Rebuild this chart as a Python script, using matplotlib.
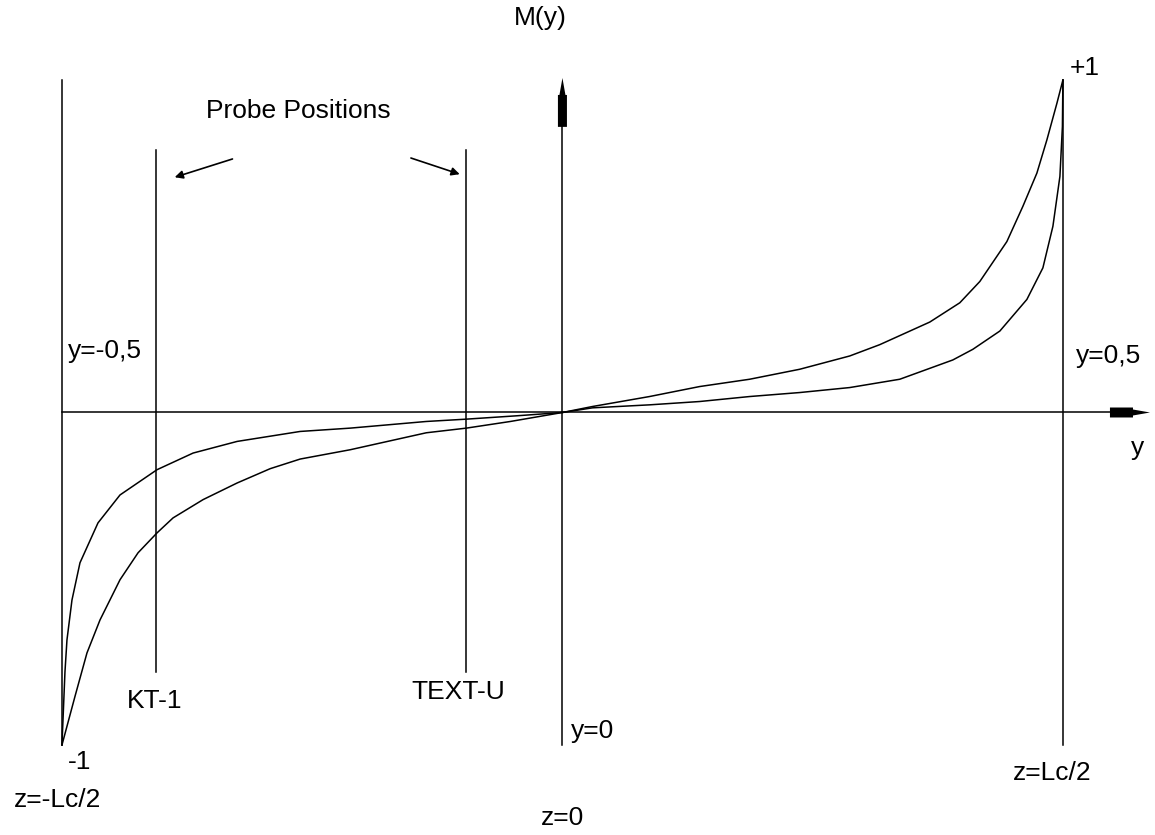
import matplotlib
matplotlib.use("Agg")
import matplotlib.pyplot as plt

# curve: (y, M(y)) for the two profiles
steep_y = [-0.5, -0.497, -0.495, -0.490, -0.482, -0.464, -0.442, -0.405, -0.369,
           -0.325, -0.262, -0.212, -0.136, -0.096, -0.046, 0.0, 0.030, 0.087,
           0.137, 0.187, 0.237, 0.287, 0.337, 0.390, 0.410, 0.437, 0.464, 0.480,
           0.490, 0.497, 0.4995, 0.5]
steep_m = [-1.0, -0.78, -0.684, -0.564, -0.452, -0.332, -0.248, -0.172, -0.122,
           -0.087, -0.057, -0.047, -0.027, -0.020, -0.010, 0.0, 0.014, 0.023,
           0.033, 0.048, 0.060, 0.075, 0.100, 0.158, 0.190, 0.245, 0.340, 0.435,
           0.560, 0.710, 0.860, 1.0]

gentle_y = [-0.5, -0.487, -0.475, -0.462, -0.442, -0.424, -0.405, -0.389, -0.359,
            -0.325, -0.292, -0.262, -0.212, -0.136, -0.096, -0.052, 0.0, 0.030,
            0.087, 0.137, 0.187, 0.237, 0.287, 0.317, 0.367, 0.397, 0.417, 0.444,
            0.460, 0.474, 0.484, 0.494, 0.5]
gentle_m = [-1.0, -0.854, -0.723, -0.624, -0.503, -0.422, -0.362, -0.317, -0.262,
            -0.212, -0.169, -0.140, -0.112, -0.061, -0.047, -0.027, 0.0, 0.018,
            0.048, 0.078, 0.100, 0.130, 0.170, 0.204, 0.272, 0.330, 0.394, 0.514,
            0.620, 0.720, 0.820, 0.930, 1.0]

walls = [-0.5, 0.5]
probe_pos = [-0.406, -0.096]
probe_names = ["KT-1", "TEXT-U"]

plt.rcParams['font.family'] = ['Liberation Sans', 'DejaVu Sans']
FS = 19
LW = 1.1

fig = plt.figure(figsize=(11.55, 8.35), dpi=100)
ax = fig.add_axes([0, 0, 1, 1])
ax.set_xlim(-0.5619, 0.592)
ax.set_ylim(-1.2707, 1.2406)
ax.axis('off')

# walls, probes, axes
for w in walls:
    ax.plot([w, w], [-1.0, 1.0], color='black', lw=LW)
for p in probe_pos:
    ax.plot([p, p], [-0.78, 0.789], color='black', lw=LW)
ax.plot([0, 0], [-1.0, 0.96], color='black', lw=LW)
ax.plot([-0.5, 0.55], [0, 0], color='black', lw=LW)

# arrow heads on the axes (stepped wedge like the original)
ax.fill([-0.0045, -0.0045, -0.003, 0.0, 0.003, 0.0045, 0.0045],
        [0.859, 0.955, 0.955, 1.006, 0.955, 0.955, 0.859], color='black', lw=0)
ax.fill([0.547, 0.570, 0.570, 0.587, 0.570, 0.570, 0.547],
        [-0.015, -0.015, -0.009, 0.0, 0.009, 0.015, 0.015], color='black', lw=0)

# the two M(y) profiles
ax.plot(steep_y, steep_m, color='black', lw=LW)
ax.plot(gentle_y, gentle_m, color='black', lw=LW)

# probe arrows
arr = dict(arrowstyle='-|>', color='black', lw=1.2, mutation_scale=12)
ax.annotate('', xy=(-0.390, 0.705), xytext=(-0.327, 0.765), arrowprops=arr)
ax.annotate('', xy=(-0.100, 0.714), xytext=(-0.154, 0.768), arrowprops=arr)

# labels
ax.text(-0.022, 1.186, "M(y)", fontsize=FS, ha='center', va='center')
ax.text(-0.264, 0.907, "Probe Positions", fontsize=FS, ha='center', va='center')
ax.text(0.507, 1.036, "+1", fontsize=FS, ha='left', va='center')
ax.text(-0.494, 0.185, "y=-0,5", fontsize=FS, ha='left', va='center')
ax.text(0.513, 0.170, "y=0,5", fontsize=FS, ha='left', va='center')
ax.text(0.575, -0.107, "y", fontsize=FS, ha='center', va='center')
ax.text(-0.407, -0.868, probe_names[0], fontsize=FS, ha='center', va='center')
ax.text(-0.104, -0.841, probe_names[1], fontsize=FS, ha='center', va='center')
ax.text(0.0085, -0.958, "y=0", fontsize=FS, ha='left', va='center')
ax.text(-0.482, -1.051, "-1", fontsize=FS, ha='center', va='center')
ax.text(-0.504, -1.165, "z=-Lc/2", fontsize=FS, ha='center', va='center')
ax.text(0.0, -1.22, "z=0", fontsize=FS, ha='center', va='center')
ax.text(0.489, -1.084, "z=Lc/2", fontsize=FS, ha='center', va='center')

fig.savefig("out.png", dpi=100)
